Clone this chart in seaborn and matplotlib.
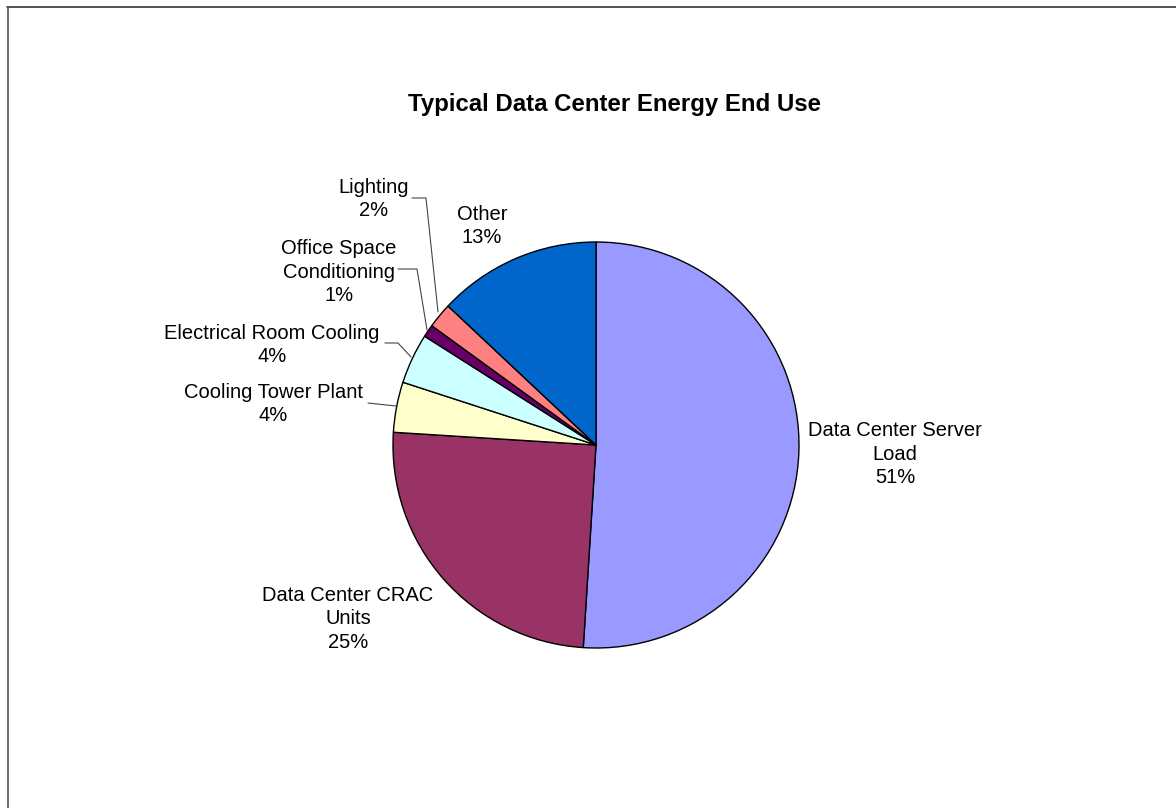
import matplotlib
matplotlib.use("Agg")
import matplotlib.pyplot as plt
import seaborn as sns
from matplotlib.lines import Line2D

categories = ["Data Center Server\nLoad", "Data Center CRAC\nUnits", "Cooling Tower Plant",
              "Electrical Room Cooling", "Office Space\nConditioning", "Lighting", "Other"]
values = [51, 25, 4, 4, 1, 2, 13]
colors = ["#9999FF", "#993366", "#FFFFCC", "#CCFFFF", "#660066", "#FF8080", "#0066CC"]
title = "Typical Data Center Energy End Use"

sns.set_theme(style="white")
plt.rcParams['font.family'] = ['Liberation Sans', 'DejaVu Sans']

W, H = 1176, 808
fig = plt.figure(figsize=(W / 100, H / 100), dpi=100)
ax = fig.add_axes([0, 0, 1, 1])
ax.set_aspect('equal')

def Y(y):
    return H - y

ax.pie(values, colors=colors, startangle=90, counterclock=False,
       center=(596, Y(445)), radius=203,
       wedgeprops=dict(edgecolor='black', linewidth=1.0), frame=True)
ax.set_xlim(0, W)
ax.set_ylim(0, H)
ax.axis('off')

# labels: pixel positions of text block centers
label_pos = [(895, 454), (348, 619), (273, 404), (272, 345), (339, 272), (374, 199), (482, 226)]
for cat, v, (x, y) in zip(categories, values, label_pos):
    ax.text(x, Y(y), f"{cat}\n{v}%", ha='center', va='center', fontsize=14.5,
            linespacing=1.32, color='black')

# leader lines
leaders = [
    [(412, 198), (426, 198), (438, 312)],
    [(398, 269), (417, 269), (427, 330)],
    [(385, 343), (398, 343), (411, 357)],
    [(368, 403), (396, 406)],
]
for pts in leaders:
    xs = [p[0] for p in pts]
    ys = [Y(p[1]) for p in pts]
    ax.plot(xs, ys, color='#444444', linewidth=0.8)

ax.text(615, Y(104), title, ha='center', va='center', fontsize=17.3,
        fontweight='bold', color='black')

# frame lines (top and left)
fig.add_artist(Line2D([7 / W, 1], [1 - 6.5 / H, 1 - 6.5 / H], transform=fig.transFigure,
                      color='#333333', linewidth=1.2))
fig.add_artist(Line2D([7.5 / W, 7.5 / W], [0, 1 - 6.5 / H], transform=fig.transFigure,
                      color='#555555', linewidth=1.2))

fig.savefig("out.png", dpi=100, facecolor='white')
